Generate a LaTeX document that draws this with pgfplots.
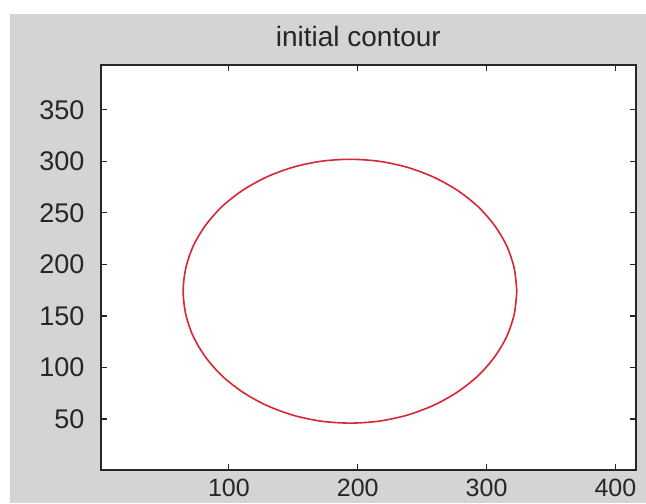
\documentclass[border=0pt]{standalone}
\usepackage{fontspec}
\setmainfont{Liberation Sans}
\usepackage{pgfplots}
\pgfplotsset{compat=1.18}
\definecolor{figbg}{RGB}{212,212,212}
\definecolor{curve}{RGB}{218,38,52}
\begin{document}
\begin{tikzpicture}
\fill[white] (0,0) rectangle (323pt,251.5pt);
\fill[figbg] (5pt,0) rectangle (323pt,244.5pt);
\begin{axis}[
  at={(50.35pt,16.5pt)}, anchor=south west,
  scale only axis, width=267.65pt, height=202.5pt,
  xmin=0.5, xmax=416, ymin=0.5, ymax=393.5,
  axis background/.style={fill=white},
  xtick={100,200,300,400}, ytick={50,100,...,350},
  tick align=inside, major tick length=3pt,
  tick style={black!85, line width=0.6pt},
  axis line style={line width=0.8pt, black!85},
  /pgf/number format/assume math mode=true,
  ticklabel style={font=\fontsize{13.5}{16}\selectfont, text=black!85, inner sep=0pt},
  xticklabel style={font=\fontsize{12.5}{14}\selectfont, anchor=north, yshift=-4.5pt},
  yticklabel style={anchor=east, xshift=-8pt},
  title={initial contour},
  title style={font=\fontsize{14}{16}\selectfont, at={(0.5,1)}, anchor=center, yshift=8.5pt, xshift=-5pt, text=black!85},
]
\addplot[curve, line width=0.8pt, smooth] coordinates {
(323.5,174) (321.5,196.2) (315.7,217.8) (306.1,238) (293.2,256.3) (277.2,272)
(258.75,284.8) (238.3,294.3) (216.5,300.1) (194,302)
(171.5,300.1) (149.7,294.3) (129.25,284.8) (110.8,272) (94.8,256.3) (81.9,238)
(72.3,217.8) (66.5,196.2) (64.5,174)
(66.5,151.8) (72.3,130.2) (81.9,110) (94.8,91.7) (110.8,76) (129.25,63.2)
(149.7,53.7) (171.5,47.9) (194,46)
(216.5,47.9) (238.3,53.7) (258.75,63.2) (277.2,76) (293.2,91.7) (306.1,110)
(315.7,130.2) (321.5,151.8) (323.5,174)
};
\end{axis}
\pgfresetboundingbox
\useasboundingbox (0,0) rectangle (323pt,251.5pt);
\end{tikzpicture}
\end{document}
